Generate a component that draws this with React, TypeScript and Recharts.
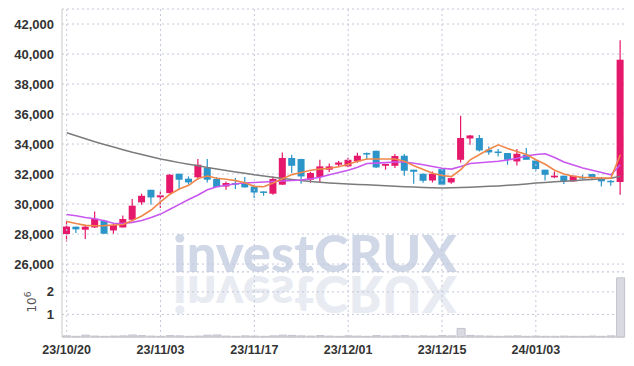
import React from 'react'
import {
  ComposedChart, Bar, Line, XAxis, YAxis, CartesianGrid, ReferenceLine,
} from 'recharts'

const dates = [
  '23/10/20', '23/10/23', '23/10/24', '23/10/25', '23/10/26', '23/10/27', '23/10/30', '23/10/31',
  '23/11/01', '23/11/02', '23/11/03', '23/11/06', '23/11/07', '23/11/08', '23/11/09', '23/11/10',
  '23/11/13', '23/11/14', '23/11/15', '23/11/16', '23/11/17', '23/11/20', '23/11/21', '23/11/22',
  '23/11/23', '23/11/24', '23/11/27', '23/11/28', '23/11/29', '23/11/30', '23/12/01', '23/12/04',
  '23/12/05', '23/12/06', '23/12/07', '23/12/08', '23/12/11', '23/12/12', '23/12/13', '23/12/14',
  '23/12/15', '23/12/18', '23/12/19', '23/12/20', '23/12/21', '23/12/22', '23/12/26', '23/12/27',
  '23/12/28', '24/01/02', '24/01/03', '24/01/04', '24/01/05', '24/01/08', '24/01/09', '24/01/10',
  '24/01/11', '24/01/12', '24/01/15', '24/01/16',
]

const opens = [
  28000, 28490, 28290, 28440, 28890, 28240, 28440, 28950, 30110, 30950,
  30450, 30730, 32020, 31690, 31780, 32400, 31670, 31170, 31400, 31400,
  31170, 30840, 30690, 31290, 33070, 33000, 31620, 31800, 32290, 32620,
  32510, 32840, 33400, 33550, 32550, 32550, 33220, 32290, 32020, 31570,
  32330, 31440, 32950, 34370, 34400, 33620, 33500, 33400, 32840, 33290,
  32900, 32290, 31780, 31890, 31510, 31800, 32000, 31730, 31550, 31470,
]
const highs = [
  28850, 28500, 28620, 29500, 28950, 28730, 29240, 30330, 30690, 30950,
  30840, 32000, 32020, 31840, 33000, 33000, 31800, 31500, 31730, 31800,
  31290, 30840, 31840, 33440, 33290, 33020, 32150, 32950, 32700, 32870,
  33090, 33420, 33440, 33550, 32670, 33330, 33330, 32290, 32020, 32170,
  32400, 31750, 35890, 34600, 34600, 33840, 33670, 33400, 33670, 33730,
  32900, 32290, 32170, 31890, 31890, 31950, 32000, 31800, 31600, 40910,
]
const lows = [
  27500, 28070, 27670, 28400, 28000, 28020, 28440, 28900, 29950, 29950,
  29730, 30700, 31000, 31290, 31620, 31440, 31130, 30950, 31000, 31100,
  30400, 30550, 30620, 31280, 32070, 31350, 31430, 31400, 32130, 32470,
  32450, 32750, 32950, 32400, 32290, 32400, 31890, 31350, 31420, 31440,
  31290, 31350, 32770, 33950, 33500, 33290, 33170, 32620, 32570, 32950,
  32170, 31570, 31730, 31330, 31510, 31620, 31620, 31170, 31220, 30620,
]
const closes = [
  28500, 28310, 28490, 29020, 28020, 28600, 29000, 29890, 30550, 30440,
  30580, 31950, 31620, 31440, 32620, 31620, 31130, 31400, 31290, 31110,
  30770, 30770, 31670, 33070, 32550, 31840, 32070, 32510, 32510, 32770,
  32950, 33220, 33310, 32440, 32670, 33200, 32220, 32150, 31550, 32020,
  31290, 31730, 34400, 34570, 33570, 33440, 33400, 32950, 33350, 32950,
  32330, 31950, 31890, 31510, 31890, 31730, 31730, 31510, 31470, 39620,
]

const ma5 = [
  28840, 28700, 28580, 28550, 28560, 28600, 28640, 28900, 29200, 29600,
  30150, 30650, 31000, 31250, 31700, 31870, 31720, 31650, 31560, 31420,
  31180, 31150, 31400, 31680, 31960, 32100, 32250, 32330, 32380, 32480,
  32650, 32850, 33000, 33000, 33000, 33000, 32850, 32550, 32300, 32050,
  31900, 31830, 32300, 32950, 33300, 33650, 33950, 33700, 33500, 33300,
  32950, 32650, 32250, 32000, 31850, 31780, 31760, 31740, 31730, 33290,
]
const ma20 = [
  29300, 29220, 29100, 29020, 28880, 28720, 28700, 28780, 28900, 29100,
  29330, 29650, 29980, 30300, 30600, 30950, 31150, 31250, 31350, 31400,
  31440, 31470, 31500, 31540, 31570, 31600, 31680, 31780, 31950, 32100,
  32250, 32450, 32700, 32730, 32760, 32800, 32800, 32720, 32620, 32500,
  32380, 32330, 32500, 32700, 32750, 32800, 32850, 32930, 33050, 33200,
  33300, 33350, 33100, 32800, 32600, 32400, 32250, 32100, 31950, 32620,
]
const ma120 = [
  34750, 34550, 34350, 34150, 33970, 33800, 33620, 33450, 33300, 33150,
  33000, 32880, 32760, 32650, 32550, 32430, 32330, 32230, 32140, 32050,
  31950, 31870, 31790, 31710, 31640, 31570, 31510, 31460, 31410, 31370,
  31340, 31310, 31280, 31250, 31220, 31190, 31160, 31130, 31110, 31090,
  31070, 31080, 31100, 31120, 31150, 31180, 31210, 31250, 31290, 31340,
  31400, 31440, 31480, 31520, 31560, 31600, 31640, 31680, 31720, 31850,
]

// volume, millions of shares
const volumes = [
  0.05, 0.03, 0.08, 0.04, 0.03, 0.04, 0.05, 0.09, 0.06, 0.04,
  0.03, 0.06, 0.05, 0.03, 0.04, 0.08, 0.09, 0.04, 0.03, 0.05,
  0.04, 0.03, 0.05, 0.08, 0.07, 0.05, 0.04, 0.06, 0.04, 0.03,
  0.05, 0.04, 0.03, 0.06, 0.04, 0.05, 0.06, 0.04, 0.05, 0.04,
  0.06, 0.05, 0.38, 0.07, 0.05, 0.04, 0.03, 0.04, 0.05, 0.03,
  0.04, 0.03, 0.03, 0.04, 0.03, 0.03, 0.04, 0.03, 0.05, 2.62,
]

const dateTicks = ['23/10/20', '23/11/03', '23/11/17', '23/12/01', '23/12/15', '24/01/03']
const priceTicks = [26000, 28000, 30000, 32000, 34000, 36000, 38000, 40000, 42000]
const volTicks = [1, 2]

const RED = '#e5186b'
const BLUE = '#2b95c9'
const FRAME = '#c9c9c9'
const GRID = '#c3c8da'
const TICK_FONT = "'Liberation Sans', Arial, sans-serif"

const rows = dates.map((date, i) => ({
  date,
  open: opens[i],
  close: closes[i],
  high: highs[i],
  low: lows[i],
  range: [lows[i], highs[i]],
  ma5: ma5[i],
  ma20: ma20[i],
  ma120: ma120[i],
  vol: volumes[i],
}))

function Candle(props: any) {
  const { x, y, width, height, payload } = props
  const { open, close, high, low } = payload
  const color = close >= open ? RED : BLUE
  const top = Math.min(y, y + height)
  const h = Math.abs(height)
  const k = h / (high - low)
  const cx = x + width / 2
  const bodyTop = top + (high - Math.max(open, close)) * k
  const bodyH = Math.max(Math.abs(close - open) * k, 1.5)
  return (
    <g>
      <line x1={cx} x2={cx} y1={top} y2={top + h} stroke={color} strokeWidth={1.2} />
      <rect x={x} y={bodyTop} width={width} height={bodyH} fill={color} />
    </g>
  )
}

const yTickStyle = { fill: '#333', fontSize: 13, fontWeight: 700, fontFamily: TICK_FONT }
const xTickStyle = { fill: '#333', fontSize: 12.5, fontWeight: 700, fontFamily: TICK_FONT }

export default function App() {
  return (
    <div style={{ position: 'absolute', left: 0, top: 0, width: 634, height: 366, background: '#fff' }}>
      <svg width={634} height={366} style={{ position: 'absolute', left: 0, top: 0 }}>
        <text x={173} y={272} fontSize={52} fontWeight={900} fontFamily="Lato, 'Open Sans', sans-serif"
          fill="#d0d7e7" textLength={284} lengthAdjust="spacingAndGlyphs">investCRUX</text>
        <g transform="translate(0,548) scale(1,-1)">
          <text x={173} y={272} fontSize={52} fontWeight={900} fontFamily="Lato, 'Open Sans', sans-serif"
            fill="#e8ebf2" textLength={284} lengthAdjust="spacingAndGlyphs">investCRUX</text>
        </g>
        <text x={36} y={302} transform="rotate(-90 36 302)" textAnchor="middle" fontSize={12}
          fontFamily="'DejaVu Sans', sans-serif" fill="#555">
          10<tspan dy={-5} fontSize={9}>6</tspan>
        </text>
      </svg>

      <div style={{ position: 'absolute', left: 0, top: 0 }}>
        <ComposedChart width={634} height={272} data={rows}
          margin={{ top: 9, right: 9, bottom: 0, left: 0 }}>
          <CartesianGrid vertical={false} stroke={GRID} strokeDasharray="2 3" />
          {dateTicks.map((d) => (
            <ReferenceLine key={d} x={d} stroke={GRID} strokeDasharray="2 3" />
          ))}
          <XAxis dataKey="date" orientation="top" height={0} tick={false} tickLine={false}
            axisLine={{ stroke: FRAME }} />
          <YAxis domain={[25470, 43000]} ticks={priceTicks} width={62} tickLine={false}
            axisLine={{ stroke: FRAME }} tick={yTickStyle} interval={0}
            tickFormatter={(v) => v.toLocaleString('en-US')} />
          <YAxis yAxisId="r" orientation="right" domain={[25470, 43000]} width={0}
            tick={false} tickLine={false} axisLine={{ stroke: FRAME }} />
          <Bar dataKey="range" shape={Candle} barSize={7} isAnimationActive={false} />
          <Line dataKey="ma120" stroke="#7b7b7b" strokeWidth={1.5} dot={false} isAnimationActive={false} />
          <Line dataKey="ma20" stroke="#c957ef" strokeWidth={1.6} dot={false} isAnimationActive={false} />
          <Line dataKey="ma5" stroke="#f0874a" strokeWidth={1.6} dot={false} isAnimationActive={false} />
        </ComposedChart>
      </div>

      <div style={{ position: 'absolute', left: 0, top: 271 }}>
        <ComposedChart width={634} height={95} data={rows}
          margin={{ top: 1, right: 9, bottom: 0, left: 0 }}>
          <CartesianGrid vertical={false} stroke={GRID} strokeDasharray="2 3" />
          {dateTicks.map((d) => (
            <ReferenceLine key={d} x={d} stroke={GRID} strokeDasharray="2 3" />
          ))}
          <XAxis dataKey="date" ticks={dateTicks} interval={0} height={29} tickLine={false}
            axisLine={{ stroke: FRAME }} tick={xTickStyle} />
          <XAxis xAxisId="top" dataKey="date" orientation="top" height={0} tick={false}
            tickLine={false} axisLine={{ stroke: FRAME }} />
          <YAxis domain={[0, 2.88]} ticks={volTicks} width={62} tickLine={false}
            axisLine={{ stroke: FRAME }} tick={yTickStyle} interval={0} />
          <YAxis yAxisId="r" orientation="right" domain={[0, 2.88]} width={0}
            tick={false} tickLine={false} axisLine={{ stroke: FRAME }} />
          <Bar dataKey="vol" fill="#d9d9e1" stroke="#c2c2ce" barSize={8} isAnimationActive={false} />
        </ComposedChart>
      </div>
    </div>
  )
}
